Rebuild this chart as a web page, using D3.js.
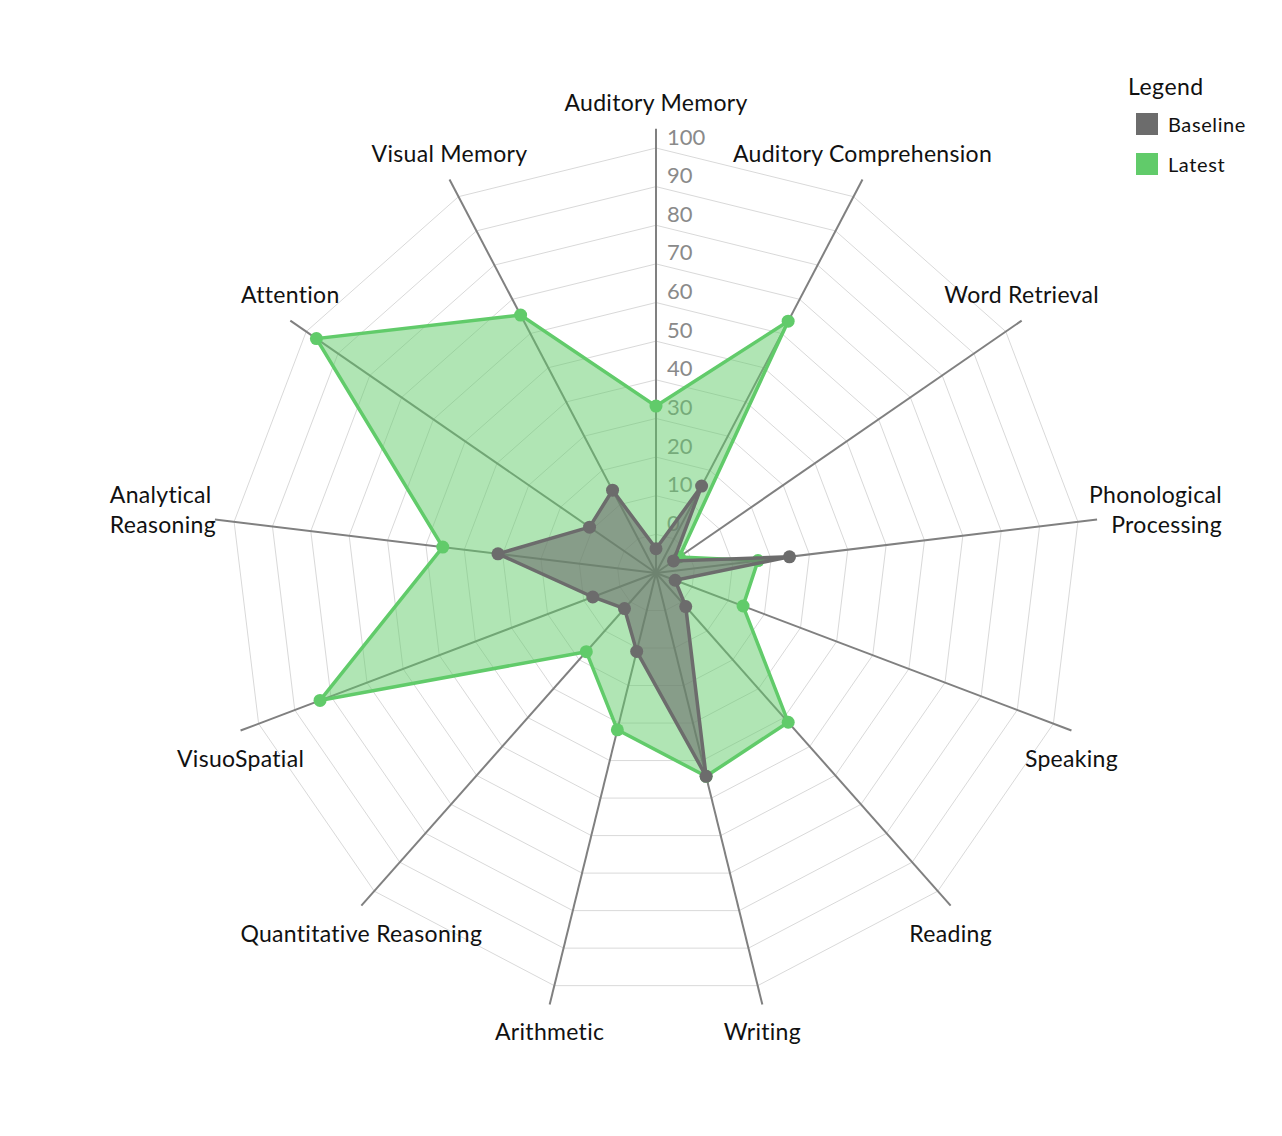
<!DOCTYPE html>
<html>
<head>
<meta charset="utf-8">
<script src="https://cdn.jsdelivr.net/npm/d3@7"></script>
<style>
  html, body { margin: 0; padding: 0; background: #fff; }
  svg { display: block; font-family: Lato, "Open Sans", sans-serif; }
</style>
</head>
<body>
<div id="chart"></div>
<script>
const axesLabels = [
  'Auditory Memory', 'Auditory Comprehension', 'Word Retrieval', 'Phonological Processing',
  'Speaking', 'Reading', 'Writing', 'Arithmetic', 'Quantitative Reasoning',
  'VisuoSpatial', 'Analytical Reasoning', 'Attention', 'Visual Memory'
];
const baselineValues = [-3.7, 15.4, -4.5, 24.8, -4.7, 1.6, 44.2, 10.9, 2.3, 7.5, 31.2, 10.9, 14.2];
const latestValues = [33.2, 63.6, -2.7, 16.6, 14.1, 41.6, 44.2, 31.8, 17.2, 83, 45.6, 96.8, 65.4];
const tickValues = [0, 10, 20, 30, 40, 50, 60, 70, 80, 90, 100];
const seriesNames = ['Baseline', 'Latest'];

const COLORS = {
  grid: '#d9d9d9',
  axis: '#808080',
  tick: '#8a8a8a',
  baseline: '#6c6c6c',
  latest: '#61cb6a',
};

const width = 1282, height = 1136;
const cx = 656, cy = 573;

const svg = d3.select('#chart').append('svg')
  .attr('width', width)
  .attr('height', height)
  .attr('viewBox', `0 0 ${width} ${height}`);

svg.append('rect').attr('width', width).attr('height', height).attr('fill', '#fff');

const r = d3.scaleLinear().domain([-10, 100]).range([0, 425]);
const angle = d3.scaleLinear().domain([0, axesLabels.length]).range([0, 2 * Math.PI]);

const px = (i, v) => cx + r(v) * Math.sin(angle(i));
const py = (i, v) => cy - r(v) * Math.cos(angle(i));

const g = svg.append('g');

// grid rings
const ringLine = d3.line();
tickValues.forEach((t) => {
  const pts = axesLabels.map((_, i) => [px(i, t), py(i, t)]);
  g.append('path')
    .attr('d', ringLine(pts) + 'Z')
    .attr('fill', 'none')
    .attr('stroke', COLORS.grid)
    .attr('stroke-width', 1);
});

// axes
axesLabels.forEach((_, i) => {
  g.append('line')
    .attr('x1', cx).attr('y1', cy)
    .attr('x2', px(i, 105)).attr('y2', py(i, 105))
    .attr('stroke', COLORS.axis)
    .attr('stroke-width', 2);
});

// tick labels
g.selectAll('.tick')
  .data(tickValues)
  .join('text')
  .attr('class', 'tick')
  .attr('x', cx + 11)
  .attr('y', (d) => cy - r(d) - 12)
  .attr('dominant-baseline', 'central')
  .attr('fill', COLORS.tick)
  .attr('font-size', 22)
  .text((d) => d);

// series
const series = [
  { name: 'Latest', values: latestValues, color: COLORS.latest, fillOpacity: 0.5 },
  { name: 'Baseline', values: baselineValues, color: COLORS.baseline, fillOpacity: 0.6 },
];

series.forEach((s) => {
  const pts = s.values.map((v, i) => [px(i, v), py(i, v)]);
  const sg = g.append('g');
  sg.append('path')
    .attr('d', d3.line()(pts) + 'Z')
    .attr('fill', s.color)
    .attr('fill-opacity', s.fillOpacity)
    .attr('stroke', s.color)
    .attr('stroke-width', 3.5)
    .attr('stroke-linejoin', 'miter');
  sg.selectAll('circle')
    .data(pts)
    .join('circle')
    .attr('cx', (d) => d[0])
    .attr('cy', (d) => d[1])
    .attr('r', 6.5)
    .attr('fill', s.color);
});

// axis labels
const labelSize = 23;
const labelSpacing = 0.3;
axesLabels.forEach((label, i) => {
  const ex = px(i, 105), ey = py(i, 105);
  if (label === 'Phonological Processing' || label === 'Analytical Reasoning') {
    const words = label.split(' ');
    const t = g.append('g');
    const lines = words.map((w, k) => t.append('text')
      .attr('y', ey - 25 + k * 30)
      .attr('dominant-baseline', 'central')
      .attr('font-size', labelSize)
      .attr('letter-spacing', labelSpacing)
      .attr('fill', '#111')
      .text(w));
    const blockW = d3.max(lines, (l) => l.node().getComputedTextLength());
    if (Math.sin(angle(i)) > 0) {
      lines.forEach((l) => l.attr('x', ex - 8 + blockW).attr('text-anchor', 'end'));
    } else {
      lines.forEach((l) => l.attr('x', ex + 1 - blockW).attr('text-anchor', 'start'));
    }
  } else {
    const up = Math.cos(angle(i)) > 0;
    g.append('text')
      .attr('x', ex)
      .attr('y', ey + (up ? -27 : 27))
      .attr('text-anchor', 'middle')
      .attr('dominant-baseline', 'central')
      .attr('font-size', labelSize)
      .attr('letter-spacing', labelSpacing)
      .attr('fill', '#111')
      .text(label);
  }
});

// legend
const legend = svg.append('g').attr('transform', 'translate(1128, 86)');
legend.append('text')
  .attr('x', 0).attr('y', 0)
  .attr('dominant-baseline', 'central')
  .attr('font-size', 23)
  .attr('letter-spacing', 0.5)
  .attr('fill', '#111')
  .text('Legend');
const legendColors = [COLORS.baseline, COLORS.latest];
seriesNames.forEach((name, k) => {
  const row = legend.append('g').attr('transform', `translate(8, ${38 + k * 40})`);
  row.append('rect')
    .attr('x', 0).attr('y', -11)
    .attr('width', 22).attr('height', 22)
    .attr('fill', legendColors[k]);
  row.append('text')
    .attr('x', 32).attr('y', 0)
    .attr('dominant-baseline', 'central')
    .attr('font-size', 20)
    .attr('letter-spacing', 0.6)
    .attr('fill', '#111')
    .text(name);
});
</script>
</body>
</html>
